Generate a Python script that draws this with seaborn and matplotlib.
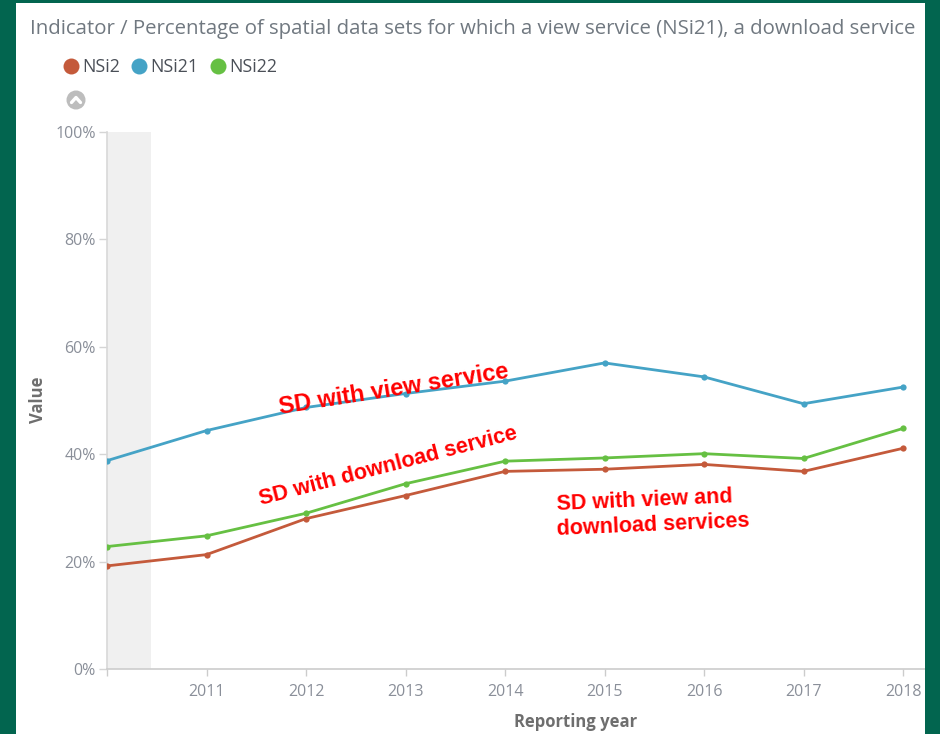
import matplotlib
matplotlib.use("Agg")
import matplotlib.pyplot as plt
import seaborn as sns
import pandas as pd
from matplotlib.patches import Rectangle, Ellipse
from matplotlib.lines import Line2D

years = [2010, 2011, 2012, 2013, 2014, 2015, 2016, 2017, 2018]
nsi2 = [19.2, 21.3, 28.0, 32.3, 36.8, 37.2, 38.1, 36.8, 41.1]
nsi21 = [38.8, 44.4, 48.7, 51.3, 53.6, 57.0, 54.4, 49.4, 52.5]
nsi22 = [22.8, 24.8, 29.0, 34.5, 38.7, 39.3, 40.1, 39.2, 44.8]
series_names = ["NSi2", "NSi21", "NSi22"]
colors = ["#c45a3b", "#45a3c6", "#66c043"]
yticks = [0, 20, 40, 60, 80, 100]
ytick_labels = ["0%", "20%", "40%", "60%", "80%", "100%"]
xtick_labels = ["", "2011", "2012", "2013", "2014", "2015", "2016", "2017", "2018"]
title = "Indicator / Percentage of spatial data sets for which a view service (NSi21), a download service"

df = pd.DataFrame({
    "year": years * 3,
    "value": nsi2 + nsi21 + nsi22,
    "series": [s for s in series_names for _ in years],
})

sns.set_theme(style="white")
plt.rcParams["font.family"] = ["Open Sans", "DejaVu Sans"]

W, H = 940, 734
fig = plt.figure(figsize=(W / 100, H / 100), dpi=100)
fig.patch.set_facecolor("white")

ax_left, ax_right, ax_top, ax_bot = 107, 925, 132, 669
ax = fig.add_axes([ax_left / W, 1 - ax_bot / H, (ax_right - ax_left) / W, (ax_bot - ax_top) / H])
ax.set_facecolor("white")

ax.axvspan(2010, 2010.44, color="#f0f0f0", zorder=0, lw=0)

sns.lineplot(data=df, x="year", y="value", hue="series", hue_order=series_names,
             palette=colors, marker="o", markersize=4.5, markeredgewidth=0,
             linewidth=2, legend=False, ax=ax, zorder=3)

ax.set_xlim(2010, 2010 + (ax_right - ax_left) / 99.5)
ax.set_ylim(0, 100)
ax.set_xticks(years)
ax.set_xticklabels(xtick_labels)
ax.set_yticks(yticks)
ax.set_yticklabels(ytick_labels)
ax.tick_params(axis="x", length=5, width=1, color="#cccccc", labelsize=11.5, labelcolor="#8a8f99", pad=6, direction="out", bottom=True)
ax.tick_params(axis="y", length=6, width=1, color="#d5d5d5", labelsize=11.5, labelcolor="#8a8f99", pad=2, direction="out", left=True)
for s in ["top", "right"]:
    ax.spines[s].set_visible(False)
ax.spines["left"].set_color("#d8d8d8")
ax.spines["left"].set_linewidth(1.2)
ax.spines["bottom"].set_color("#cccccc")
ax.spines["bottom"].set_linewidth(1.2)
ax.set_xlabel("")
ax.set_ylabel("")
ax.grid(False)

fig.text(38 / W, 1 - 400 / H, "Value", rotation=90, ha="center", va="center",
         fontsize=12, fontweight="bold", color="#6e6e6e")
fig.text(576 / W, 1 - 722 / H, "Reporting year", ha="center", va="center",
         fontsize=12, fontweight="bold", color="#6e6e6e")

# annotations
ann = dict(color="#ff0000", fontweight="bold",
           family=["Liberation Sans", "DejaVu Sans"], va="center",
           rotation_mode="anchor")
ax.text(2012.88, 52.0, "SD with view service", rotation=9, ha="center", fontsize=17, **ann)
ax.text(2012.83, 37.8, "SD with download service", rotation=14.5, ha="center", fontsize=15.5, **ann)
ax.text(2014.52, 30.6, "SD with view and", rotation=2.5, ha="left", fontsize=15.5, **ann)
ax.text(2014.52, 26.0, "download services", rotation=2.5, ha="left", fontsize=15.5, **ann)

# title (the reference shows it truncated at the panel edge)
fig.text(30 / W, 1 - 29 / H, title, ha="left", va="center", fontsize=14.7, color="#707880")

# legend
handles = [Line2D([], [], linestyle="none", marker="o", markersize=11.5,
                  markerfacecolor=c, markeredgewidth=0) for c in colors]
leg = fig.legend(handles, series_names, loc="center left",
                 bbox_to_anchor=(59 / W, 1 - 67 / H), ncol=3, frameon=False,
                 handletextpad=-0.05, columnspacing=0.42, handlelength=1.35,
                 fontsize=12.8, borderpad=0, borderaxespad=0)
for t in leg.get_texts():
    t.set_color("#4a4f57")

# collapse icon
cx, cy = 76, 100
fig.patches.append(Ellipse((cx / W, 1 - cy / H), 19 / W, 19 / H, transform=fig.transFigure,
                           facecolor="#bdbdbd", edgecolor="none", zorder=5))
fig.lines.append(Line2D([(cx - 4.5) / W, cx / W, (cx + 4.5) / W],
                        [1 - (cy + 2.5) / H, 1 - (cy - 2.5) / H, 1 - (cy + 2.5) / H],
                        transform=fig.transFigure, color="white", lw=2.4, zorder=6))

# green frame
green = "#02654f"
for (x0, y0, w, h) in [(0, 0, 16, H), (925, 0, 15, H), (0, 0, W, 3)]:
    fig.patches.append(Rectangle((x0 / W, 1 - (y0 + h) / H), w / W, h / H,
                                 transform=fig.transFigure, facecolor=green,
                                 edgecolor="none", zorder=100))

fig.savefig("out.png", dpi=100, facecolor=fig.get_facecolor())
